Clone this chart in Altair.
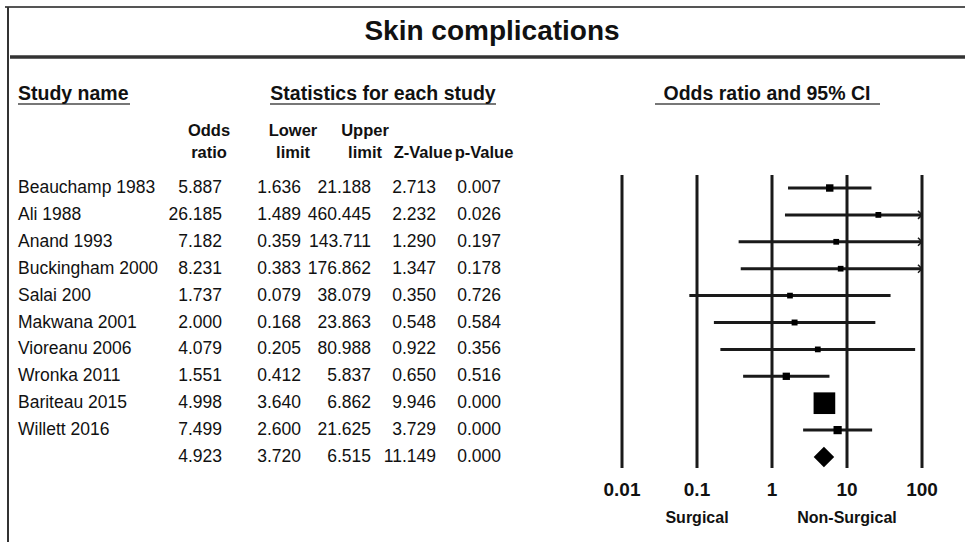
import altair as alt
import pandas as pd

# ---------------- data ----------------
studies = ["Beauchamp 1983", "Ali 1988", "Anand 1993", "Buckingham 2000", "Salai 200",
           "Makwana 2001", "Vioreanu 2006", "Wronka 2011", "Bariteau 2015", "Willett 2016"]
odds_ratio = [5.887, 26.185, 7.182, 8.231, 1.737, 2.000, 4.079, 1.551, 4.998, 7.499]
lower_limit = [1.636, 1.489, 0.359, 0.383, 0.079, 0.168, 0.205, 0.412, 3.640, 2.600]
upper_limit = [21.188, 460.445, 143.711, 176.862, 38.079, 23.863, 80.988, 5.837, 6.862, 21.625]
z_value = [2.713, 2.232, 1.290, 1.347, 0.350, 0.548, 0.922, 0.650, 9.946, 3.729]
p_value = [0.007, 0.026, 0.197, 0.178, 0.726, 0.584, 0.356, 0.516, 0.000, 0.000]
rel_weight = [4.8, 1.0, 0.9, 0.8, 0.8, 1.3, 0.9, 4.5, 78.1, 7.0]

summary_or = 4.923
summary_lower = 3.720
summary_upper = 6.515
summary_z = 11.149
summary_p = 0.000

col_keys = ["or", "lower", "upper", "z", "p"]
header_top = ["Odds", "Lower", "Upper", "", ""]
header_bottom = ["ratio", "limit", "limit", "Z-Value", "p-Value"]
axis_ticks = [0.01, 0.1, 1, 10, 100]
axis_labels = ["0.01", "0.1", "1", "10", "100"]
side_labels = ["Surgical", "Non-Surgical"]
side_anchor = [0.1, 10]

FONT = "Liberation Sans"
INK = "#111111"
ROW_FS = 17.5
HEAD_FS = 16.5

# ---------------- tables ----------------
n = len(studies)
study_df = pd.DataFrame({
    "row": list(range(n)), "name": studies, "or": odds_ratio,
    "lower": lower_limit, "upper": upper_limit, "weight": rel_weight,
})
summary_df = pd.DataFrame({"row": [n], "or": [summary_or],
                           "lower": [summary_lower], "upper": [summary_upper]})

all_vals = {
    "or": odds_ratio + [summary_or],
    "lower": lower_limit + [summary_lower],
    "upper": upper_limit + [summary_upper],
    "z": z_value + [summary_z],
    "p": p_value + [summary_p],
}
long_rows = []
for ci_, k in enumerate(col_keys):
    for i, v in enumerate(all_vals[k]):
        long_rows.append({"row": i, "col": ci_, "txt": f"{v:.3f}"})
long_df = pd.DataFrame(long_rows)
col_idx = list(range(len(col_keys)))
head_top_df = pd.DataFrame({"col": col_idx, "txt": header_top})
head_bot_df = pd.DataFrame({"col": col_idx, "txt": header_bottom})
tick_df = pd.DataFrame({"v": axis_ticks, "lab": axis_labels})
side_df = pd.DataFrame({"v": side_anchor, "lab": side_labels})

row_scale = alt.Scale(domain=[0, n], range=[188, 457])
log_scale = alt.Scale(type="log", domain=[0.01, 100], range=[622, 922], clamp=True)
num_scale = alt.Scale(domain=col_idx, range=[222, 301, 371, 436, 501])
head_scale = alt.Scale(domain=col_idx, range=[209, 293, 365, 423, 484])
y_row = alt.Y("row:Q", scale=row_scale, axis=None)

one = alt.Data(values=[{}])

def hline(x1, x2, y, w, color):
    return alt.Chart(one).mark_rule(strokeWidth=w, color=color).encode(
        x=alt.value(x1), x2=alt.value(x2), y=alt.value(y))

def vline(x, y1, y2, w, color):
    return alt.Chart(one).mark_rule(strokeWidth=w, color=color).encode(
        x=alt.value(x), y=alt.value(y1), y2=alt.value(y2))

def label(text, x, y, size, bold=True, align="center"):
    return alt.Chart(one).mark_text(
        text=text, font=FONT, fontSize=size, fontWeight="bold" if bold else "normal",
        align=align, baseline="middle", color=INK).encode(x=alt.value(x), y=alt.value(y))

# frame & decorative lines
frame = [
    hline(5, 965, 7, 2, "#555555"),
    vline(8, 7, 542, 2, "#333333"),
    hline(10, 965, 57, 3.5, "#333333"),
    hline(18, 130, 104, 2, "#777777"),
    hline(270, 496, 104, 2, "#777777"),
    hline(655, 880, 104, 2, "#777777"),
]

titles = [
    label("Skin complications", 492, 32, 28),
    label("Study name", 18, 94, 19.5, align="left"),
    label("Statistics for each study", 383, 94, 19.5),
    label("Odds ratio and 95% CI", 767, 94, 19.5),
]

head_top = alt.Chart(head_top_df).mark_text(
    font=FONT, fontSize=HEAD_FS, fontWeight="bold", align="center", baseline="middle",
    color=INK).encode(
    x=alt.X("col:Q", scale=head_scale, axis=None), y=alt.value(131), text="txt:N")

head_bot = alt.Chart(head_bot_df).mark_text(
    font=FONT, fontSize=HEAD_FS, fontWeight="bold", align="center", baseline="middle",
    color=INK).encode(
    x=alt.X("col:Q", scale=head_scale, axis=None), y=alt.value(153), text="txt:N")

names = alt.Chart(study_df).mark_text(
    font=FONT, fontSize=ROW_FS, align="left", baseline="middle", color=INK).encode(
    x=alt.value(18), y=y_row, text="name:N")

numbers = alt.Chart(long_df).mark_text(
    font=FONT, fontSize=ROW_FS, align="right", baseline="middle", color=INK).encode(
    x=alt.X("col:Q", scale=num_scale, axis=None), y=y_row, text="txt:N")

# forest plot
ref_lines = alt.Chart(tick_df).mark_rule(strokeWidth=3, color="#1a1a1a").encode(
    x=alt.X("v:Q", scale=log_scale, axis=None), y=alt.value(175), y2=alt.value(468))

tick_text = alt.Chart(tick_df).mark_text(
    font=FONT, fontSize=19, fontWeight="bold", baseline="middle", color=INK).encode(
    x=alt.X("v:Q", scale=log_scale, axis=None), y=alt.value(490), text="lab:N")

side_text = alt.Chart(side_df).mark_text(
    font=FONT, fontSize=16, fontWeight="bold", baseline="middle", color=INK).encode(
    x=alt.X("v:Q", scale=log_scale, axis=None), y=alt.value(518), text="lab:N")

ci = alt.Chart(study_df).mark_rule(strokeWidth=3, color="#1a1a1a").encode(
    x=alt.X("lower:Q", scale=log_scale, axis=None), x2="upper:Q", y=y_row)

arrows = alt.Chart(study_df).transform_filter("datum.upper > 100").mark_point(
    shape="M-1,-1L0,0L-1,1", filled=False, color="#1a1a1a", strokeWidth=1.5, size=64, opacity=1).encode(
    x=alt.X("upper:Q", scale=log_scale, axis=None), y=y_row)

squares = alt.Chart(study_df).mark_point(
    shape="square", filled=True, color="#000000", opacity=1).encode(
    x=alt.X("or:Q", scale=log_scale, axis=None), y=y_row,
    size=alt.Size("weight:Q", scale=alt.Scale(domain=[0, 80], range=[28, 480]), legend=None))

diamond = alt.Chart(summary_df).mark_point(
    shape="diamond", filled=True, color="#000000", opacity=1, size=420).encode(
    x=alt.X("or:Q", scale=log_scale, axis=None), y=y_row)

chart = alt.layer(
    *frame, *titles, head_top, head_bot, names, numbers,
    ref_lines, tick_text, side_text, ci, arrows, squares, diamond,
).resolve_scale(x="independent").properties(
    width=965, height=542, autosize=alt.AutoSizeParams(type="none"), padding=0,
    background="white",
).configure_view(stroke=None)

chart.save("out.html", embed_options={"renderer": "svg", "actions": False})
